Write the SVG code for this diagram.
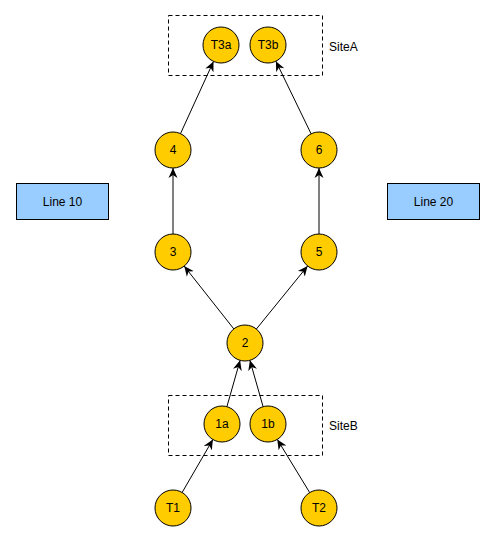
<svg xmlns="http://www.w3.org/2000/svg" width="495" height="541" viewBox="0 0 495 541">
<style>
  .n circle { fill: #ffcc00; stroke: #000; stroke-width: 1; }
  .n text, .lbl { font-family: "Liberation Sans", Arial, sans-serif; font-size: 12px; fill: #000; }
  .n text { text-anchor: middle; dominant-baseline: central; }
  .site { fill: none; stroke: #000; stroke-width: 1; stroke-dasharray: 4 3; }
  .box rect { fill: #99ccff; stroke: #000; stroke-width: 1; }
  .box text { font-family: "Liberation Sans", Arial, sans-serif; font-size: 12px; text-anchor: middle; dominant-baseline: central; }
  .c line { stroke: #000; stroke-width: 1; marker-end: url(#arr); }
</style>
<defs>
  <marker id="arr" viewBox="0 0 10 10" refX="10" refY="5" markerWidth="10" markerHeight="10" markerUnits="userSpaceOnUse" orient="auto">
    <path d="M0,0.5 L10,5 L0,9.5 L3,5 z" fill="#000"/>
  </marker>
</defs>
<rect width="495" height="541" fill="#fff"/>
<g id="siteA">
  <rect class="site" x="168.5" y="15.5" width="154" height="60"/>
  <text class="lbl" x="329" y="51">SiteA</text>
</g>
<g id="siteB">
  <rect class="site" x="168.5" y="395.5" width="154" height="60"/>
  <text class="lbl" x="329" y="430">SiteB</text>
</g>
<g id="line10" class="box">
  <rect x="16.5" y="183.5" width="92" height="36"/>
  <text x="62.5" y="201.5">Line 10</text>
</g>
<g id="line20" class="box">
  <rect x="387.5" y="183.5" width="92" height="36"/>
  <text x="433.5" y="201.5">Line 20</text>
</g>
<g id="connectors" class="c">
  <line x1="173" y1="234" x2="173" y2="168"/>
  <line x1="319" y1="234" x2="319" y2="168"/>
  <line x1="180.5" y1="133.6" x2="213.5" y2="61.4"/>
  <line x1="311.1" y1="133.8" x2="275.9" y2="61.2"/>
  <line x1="233.8" y1="328.9" x2="184.2" y2="266.1"/>
  <line x1="256.4" y1="329.0" x2="307.6" y2="266.0"/>
  <line x1="226.9" y1="406.7" x2="240.1" y2="360.3"/>
  <line x1="263.1" y1="406.7" x2="249.9" y2="360.3"/>
  <line x1="182.1" y1="492.5" x2="212.9" y2="439.5"/>
  <line x1="309.7" y1="492.6" x2="277.3" y2="439.4"/>
</g>
<g id="T3a" class="n"><circle cx="221" cy="45" r="18"/><text x="221" y="45">T3a</text></g>
<g id="T3b" class="n"><circle cx="268" cy="45" r="18"/><text x="268" y="45">T3b</text></g>
<g id="n4" class="n"><circle cx="173" cy="150" r="18"/><text x="173" y="150">4</text></g>
<g id="n6" class="n"><circle cx="319" cy="150" r="18"/><text x="319" y="150">6</text></g>
<g id="n3" class="n"><circle cx="173" cy="252" r="18"/><text x="173" y="252">3</text></g>
<g id="n5" class="n"><circle cx="319" cy="252" r="18"/><text x="319" y="252">5</text></g>
<g id="n2" class="n"><circle cx="245" cy="343" r="18"/><text x="245" y="343">2</text></g>
<g id="n1a" class="n"><circle cx="222" cy="424" r="18"/><text x="222" y="424">1a</text></g>
<g id="n1b" class="n"><circle cx="268" cy="424" r="18"/><text x="268" y="424">1b</text></g>
<g id="T1" class="n"><circle cx="173" cy="508" r="18"/><text x="173" y="508">T1</text></g>
<g id="T2" class="n"><circle cx="319" cy="508" r="18"/><text x="319" y="508">T2</text></g>
</svg>
